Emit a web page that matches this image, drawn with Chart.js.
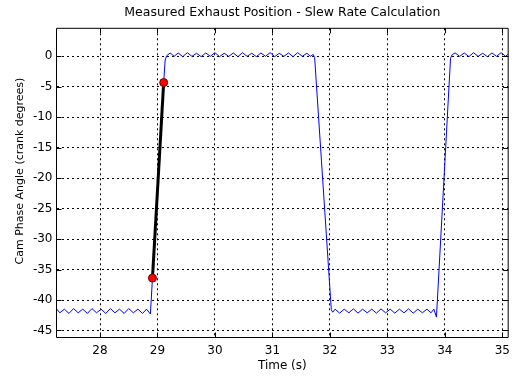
<!DOCTYPE html>
<html>
<head>
<meta charset="utf-8">
<script src="https://cdn.jsdelivr.net/npm/chart.js@4.4.1/dist/chart.umd.min.js"></script>
<style>
  html, body { margin: 0; padding: 0; background: #fff; }
  canvas { display: block; }
</style>
</head>
<body>
<canvas id="c" width="516" height="376"></canvas>
<script>
// ---- Data ----
const chartTitle = "Measured Exhaust Position - Slew Rate Calculation";
const xAxisTitle = "Time (s)";
const yAxisTitle = "Cam Phase Angle (crank degrees)";

const timeSeconds = [
  27.24, 27.30, 27.38, 27.46, 27.54, 27.62, 27.70, 27.78, 27.86, 27.94,
  28.02, 28.10, 28.18, 28.26, 28.34, 28.42, 28.50, 28.58, 28.66, 28.74,
  28.81, 28.877,
  28.913, 29.108, 29.134, 29.16, 29.22,
  29.29, 29.36, 29.44, 29.52, 29.60, 29.68, 29.76, 29.84, 29.92, 30.00,
  30.08, 30.16, 30.24, 30.32, 30.40, 30.48, 30.56, 30.64, 30.72, 30.80,
  30.88, 30.96, 31.04, 31.12, 31.20, 31.28, 31.36, 31.44, 31.52, 31.60,
  31.66, 31.71,
  31.735, 32.025, 32.05,
  32.09, 32.17, 32.25, 32.33, 32.41, 32.49, 32.57, 32.65, 32.73, 32.81,
  32.89, 32.97, 33.05, 33.13, 33.21, 33.29, 33.37, 33.45, 33.53, 33.61,
  33.69, 33.76, 33.81, 33.855,
  34.10, 34.13,
  34.18, 34.26, 34.34, 34.42, 34.50, 34.58, 34.66, 34.74, 34.82, 34.90,
  34.98, 35.06, 35.12
];
const camAngle = [
  -41.4, -42.1, -41.5, -42.2, -41.4, -42.1, -41.5, -42.2, -41.4, -42.1,
  -41.5, -42.2, -41.4, -42.1, -41.5, -42.2, -41.4, -42.1, -41.5, -42.2,
  -41.5, -42.3,
  -36.4, -4.3, -0.6, 0.1, 0.55,
  0.0, 0.55, -0.05, 0.6, 0.0, 0.5, -0.05, 0.55, 0.0, 0.6,
  -0.05, 0.5, 0.0, 0.55, -0.05, 0.6, 0.0, 0.5, -0.05, 0.55,
  0.0, 0.6, -0.05, 0.5, 0.0, 0.55, -0.05, 0.6, 0.0, 0.5,
  0.0, 0.3,
  -0.2, -41.6, -42.0,
  -41.5, -42.15, -41.5, -42.1, -41.45, -42.15, -41.5, -42.1, -41.5, -42.15,
  -41.45, -42.1, -41.5, -42.15, -41.5, -42.1, -41.45, -42.15, -41.5, -42.1,
  -41.5, -42.1, -41.5, -42.8,
  -0.3, 0.3,
  0.55, 0.0, 0.55, -0.05, 0.6, 0.0, 0.5, -0.05, 0.55, 0.0,
  0.6, 0.0, 0.5
];

// Slew-rate calculation points (red markers joined by the black line)
const slewTimes = [28.913, 29.108];
const slewAngles = [-36.4, -4.3];

// Axis ticks and limits
const xTickValues = [28, 29, 30, 31, 32, 33, 34, 35];
const yTickValues = [-45, -40, -35, -30, -25, -20, -15, -10, -5, 0];
const xLimits = [27.243, 35.103];
const yLimits = [-46.15, 4.6];

// ---- Build chart ----
const FONT = "'DejaVu Sans', 'Liberation Sans', sans-serif";
const toPoints = (xs, ys) => xs.map((x, i) => ({ x: x, y: ys[i] }));

const framePlugin = {
  id: 'frame',
  afterDraw(chart) {
    const { ctx, chartArea: a, scales } = chart;
    ctx.save();
    ctx.strokeStyle = '#000';
    ctx.lineWidth = 1;
    ctx.setLineDash([]);
    ctx.beginPath();
    ctx.rect(a.left, a.top, a.right - a.left, a.bottom - a.top);
    ctx.stroke();
    // inward tick marks (MATLAB style)
    const tl = 5;
    ctx.beginPath();
    scales.x.ticks.forEach(t => {
      const px = Math.round(scales.x.getPixelForValue(t.value)) + 0.5;
      ctx.moveTo(px, a.bottom); ctx.lineTo(px, a.bottom - tl);
      ctx.moveTo(px, a.top); ctx.lineTo(px, a.top + tl);
    });
    scales.y.ticks.forEach(t => {
      const py = Math.round(scales.y.getPixelForValue(t.value)) + 0.5;
      ctx.moveTo(a.left, py); ctx.lineTo(a.left + tl, py);
      ctx.moveTo(a.right, py); ctx.lineTo(a.right - tl, py);
    });
    ctx.stroke();
    // y axis title
    ctx.fillStyle = '#000';
    ctx.font = "11px " + FONT;
    ctx.textAlign = 'center';
    ctx.textBaseline = 'middle';
    ctx.translate(20, 171);
    ctx.rotate(-Math.PI / 2);
    ctx.fillText(yAxisTitle, 0, 0);
    ctx.restore();
  }
};

new Chart(document.getElementById('c'), {
  type: 'line',
  data: {
    datasets: [
      {
        label: 'Slew points',
        data: toPoints(slewTimes, slewAngles),
        showLine: false,
        pointRadius: 4,
        pointBackgroundColor: '#ff0000',
        pointBorderColor: '#700000',
        pointBorderWidth: 1,
        order: 0
      },
      {
        label: 'Slew line',
        data: toPoints(slewTimes, slewAngles),
        borderColor: '#000000',
        borderWidth: 3,
        pointRadius: 0,
        tension: 0,
        order: 1
      },
      {
        label: 'Measured exhaust position',
        data: toPoints(timeSeconds, camAngle),
        borderColor: '#0000ff',
        borderWidth: 1,
        pointRadius: 0,
        tension: 0,
        order: 2
      }
    ]
  },
  options: {
    responsive: false,
    animation: false,
    devicePixelRatio: 1,
    layout: { padding: { left: 0, right: 2.5, top: 0, bottom: 0 } },
    plugins: {
      legend: { display: false },
      tooltip: { enabled: false },
      title: {
        display: true,
        text: chartTitle,
        fullSize: false,
        color: '#000',
        font: { family: FONT, size: 12.5, weight: 'normal' },
        padding: { top: 5.5, bottom: 7.8 }
      }
    },
    scales: {
      x: {
        type: 'linear',
        min: xLimits[0],
        max: xLimits[1],
        afterFit(scale) { scale.height = 38.5; },
        afterBuildTicks(scale) { scale.ticks = xTickValues.map(v => ({ value: v })); },
        ticks: {
          color: '#000',
          font: { family: FONT, size: 12 },
          padding: 6,
          maxRotation: 0,
          autoSkip: false,
          callback: v => String(v)
        },
        grid: { color: '#000', lineWidth: 1, drawTicks: false },
        border: { display: false, dash: [2, 3] },
        title: {
          display: true,
          text: xAxisTitle,
          color: '#000',
          font: { family: FONT, size: 12 },
          padding: { top: 0, bottom: 2.5 }
        }
      },
      y: {
        type: 'linear',
        min: yLimits[0],
        max: yLimits[1],
        afterFit(scale) { scale.width = 56.5; },
        afterBuildTicks(scale) { scale.ticks = yTickValues.map(v => ({ value: v })); },
        ticks: {
          color: '#000',
          font: { family: FONT, size: 12 },
          padding: 4,
          autoSkip: false,
          callback: v => String(v)
        },
        grid: { color: '#000', lineWidth: 1, drawTicks: false },
        border: { display: false, dash: [2, 3] }
      }
    }
  },
  plugins: [framePlugin]
});
</script>
</body>
</html>
